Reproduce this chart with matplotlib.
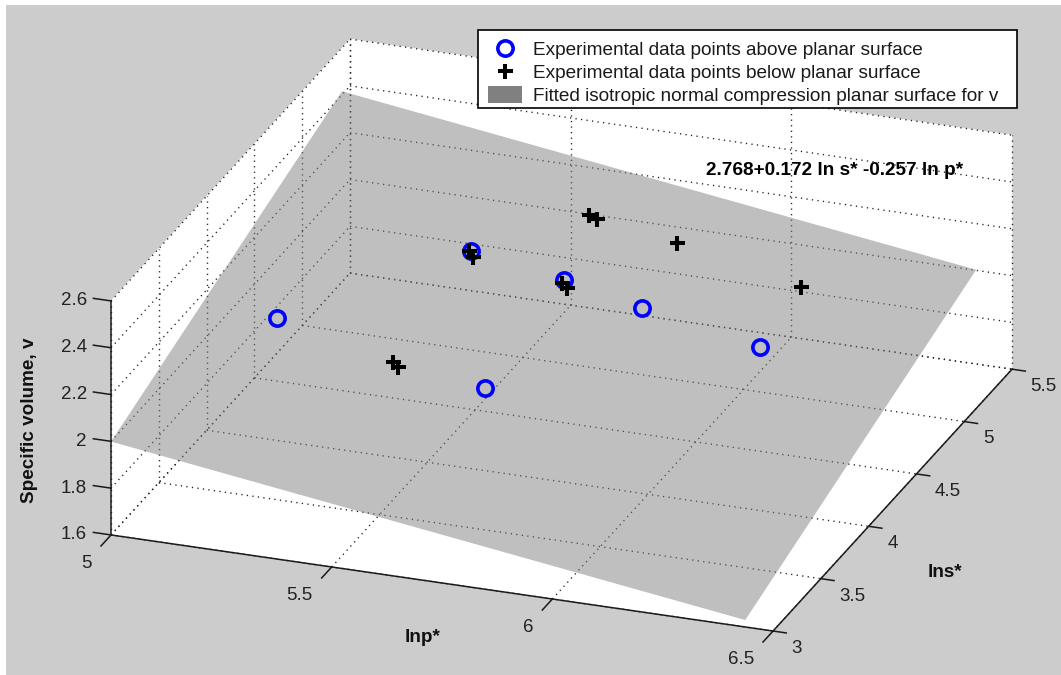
import matplotlib
matplotlib.use("Agg")
import matplotlib.pyplot as plt
from matplotlib.lines import Line2D
from matplotlib.patches import Patch, Rectangle
from mpl_toolkits.mplot3d import proj3d
from mpl_toolkits.mplot3d.art3d import Poly3DCollection

plt.rcParams['font.family'] = ['Liberation Sans', 'DejaVu Sans']

# tick values
lnp_ticks = [5, 5.5, 6, 6.5]
lns_ticks = [3, 3.5, 4, 4.5, 5, 5.5]
v_ticks = [1.6, 1.8, 2, 2.2, 2.4, 2.6]
lnp_labels = ['5', '5.5', '6', '6.5']
lns_labels = ['3', '3.5', '4', '4.5', '5', '5.5']
v_labels = ['1.6', '1.8', '2', '2.2', '2.4', '2.6']

# fitted plane corners
plane_lnp = [5, 6.437, 6.437, 5]
plane_lns = [3, 3, 5.416, 5.416]
plane_v = [1.999, 1.6297, 2.0453, 2.4146]

# points above the plane
above_lnp = [5.170, 5.456, 5.672, 5.656, 5.855, 6.130]
above_lns = [3.948, 4.659, 4.641, 3.885, 4.607, 4.570]
above_v = [2.148, 2.197, 2.139, 2.013, 2.086, 2.009]

# points below the plane
below_lnp = [5.431, 5.447, 5.436, 5.451, 5.653, 5.669, 5.620, 5.639, 5.824, 6.115]
below_lns = [3.964, 3.943, 4.736, 4.706, 4.699, 4.679, 5.142, 5.131, 5.121, 5.072]
below_v = [2.024, 2.016, 2.156, 2.147, 2.093, 2.086, 2.178, 2.171, 2.122, 2.039]

legend_labels = ['Experimental data points above planar surface',
                 'Experimental data points below planar surface',
                 'Fitted isotropic normal compression planar surface for v']
equation = '2.768+0.172 ln s* -0.257 ln p*'

W, H = 1061, 675
fig = plt.figure(figsize=(W / 100, H / 100), dpi=100, facecolor='white')
fig.add_artist(Rectangle((6 / W, 0), 1 - 6 / W, 1 - 5 / H, transform=fig.transFigure,
                         facecolor='#cccccc', edgecolor='none', zorder=-5))

S = 994.6
ax = fig.add_axes([50.8 / W, -170.8 / H, S / W, S / H], projection='3d',
                  proj_type='ortho', computed_zorder=False)
ax.set_facecolor('none')
ax.set_axis_off()
ax.view_init(elev=23.5, azim=-70.0)
ax.set_box_aspect((704.5, 698.8, 255.2))
x0, x1 = lnp_ticks[0], lnp_ticks[-1]
y0, y1 = lns_ticks[0], lns_ticks[-1]
z0, z1 = v_ticks[0], v_ticks[-1]
ax.set_xlim(x0, x1)
ax.set_ylim(y0, y1)
ax.set_zlim(z0, z1)


def text_at(x, y, z, s, **kw):
    """Place 2D text at the screen position of a 3D data point."""
    px, py, _ = proj3d.proj_transform(x, y, z, ax.get_proj())
    return ax.text2D(px, py, s, transform=ax.transData, **kw)


# white walls
walls = [[(x0, y0, z0), (x1, y0, z0), (x1, y1, z0), (x0, y1, z0)],
         [(x0, y1, z0), (x1, y1, z0), (x1, y1, z1), (x0, y1, z1)],
         [(x0, y0, z0), (x0, y1, z0), (x0, y1, z1), (x0, y0, z1)]]
ax.add_collection3d(Poly3DCollection(walls, facecolor='white', edgecolor='white',
                                     linewidth=0.5, zorder=1))

# dotted grid
grid = dict(color='#222222', lw=1.0, ls=(0, (0.9, 3.1)), zorder=2)
for x in lnp_ticks:
    ax.plot([x, x], [y0, y1], [z0, z0], **grid)
    ax.plot([x, x], [y1, y1], [z0, z1], **grid)
for y in lns_ticks:
    ax.plot([x0, x1], [y, y], [z0, z0], **grid)
    ax.plot([x0, x0], [y, y], [z0, z1], **grid)
for z in v_ticks:
    ax.plot([x0, x1], [y1, y1], [z, z], **grid)
    ax.plot([x0, x0], [y0, y1], [z, z], **grid)

# plane
ax.add_collection3d(Poly3DCollection([list(zip(plane_lnp, plane_lns, plane_v))],
                                     facecolor=(0.5, 0.5, 0.5, 0.5), edgecolor='none', zorder=3))

# axes and ticks
axis = dict(color='#1a1a1a', lw=1.1, zorder=4)
ax.plot([x0, x1], [y0, y0], [z0, z0], **axis)
ax.plot([x1, x1], [y0, y1], [z0, z0], **axis)
ax.plot([x0, x0], [y0, y0], [z0, z1], **axis)
tc = '#222222'
for x, lab in zip(lnp_ticks, lnp_labels):
    ax.plot([x, x], [y0, y0 - 0.105], [z0, z0], **axis)
    text_at(x, y0 - 0.2, z0 - 0.034, lab, ha='right', va='center', fontsize=13.5, color=tc, zorder=6)
for y, lab in zip(lns_ticks, lns_labels):
    ax.plot([x1, x1 + 0.03], [y, y], [z0, z0], **axis)
    text_at(x1 + 0.042, y, z0 - 0.063, lab, ha='left', va='center', fontsize=13.5, color=tc, zorder=6)
for z, lab in zip(v_ticks, v_labels):
    ax.plot([x0, x0 - 0.04], [y0, y0], [z, z], **axis)
    text_at(x0 - 0.055, y0, z - 0.015, lab, ha='right', va='center', fontsize=13.5, color=tc, zorder=6)

# data
ax.plot(above_lnp, above_lns, above_v, ls='none', marker='o', mfc='none', mec='#0000ff',
        ms=11, mew=2.6, zorder=5)
ax.plot(below_lnp, below_lns, below_v, ls='none', marker='+', color='black',
        ms=10.8, mew=2.9, zorder=5)

# labels
lab = dict(fontsize=13.6, fontweight='bold', color='#111111', ha='center', va='center', zorder=6)
text_at(5.812, 2.513, z0, 'lnp*', **lab)
text_at(6.737, 3.707, z0, 'lns*', **lab)
text_at(4.816, y0, 2.041, 'Specific volume, v', rotation=90, **lab)
text_at(6.099, y1, 2.341, equation, fontsize=13.7, fontweight='bold', color='black',
        ha='center', va='center', zorder=6)

# legend box with the reference's exact extent, legend entries on top of it
fig.add_artist(Rectangle((477.7 / W, 1 - 108 / H), 539 / W, 78 / H, transform=fig.transFigure,
                         facecolor='white', edgecolor='black', linewidth=1.2, zorder=10))
handles = [Line2D([], [], ls='none', marker='o', mfc='none', mec='#0000ff', ms=11, mew=2.6),
           Line2D([], [], ls='none', marker='+', color='black', ms=10.8, mew=2.9),
           Patch(facecolor='#808080', edgecolor='none')]
leg = fig.legend(handles, legend_labels, loc='upper left', mode='expand',
                 bbox_to_anchor=(477.7 / W, 1 - 108 / H, 539 / W, 78 / H),
                 bbox_transform=fig.transFigure,
                 fontsize=13.65, frameon=False,
                 borderpad=0.55, borderaxespad=0, handlelength=1.8, handleheight=0.95,
                 handletextpad=0.58, labelspacing=0.22)
leg.set_zorder(20)
for t in leg.get_texts():
    t.set_color('#1a1a1a')

fig.savefig('out.png', dpi=100, facecolor='white')
